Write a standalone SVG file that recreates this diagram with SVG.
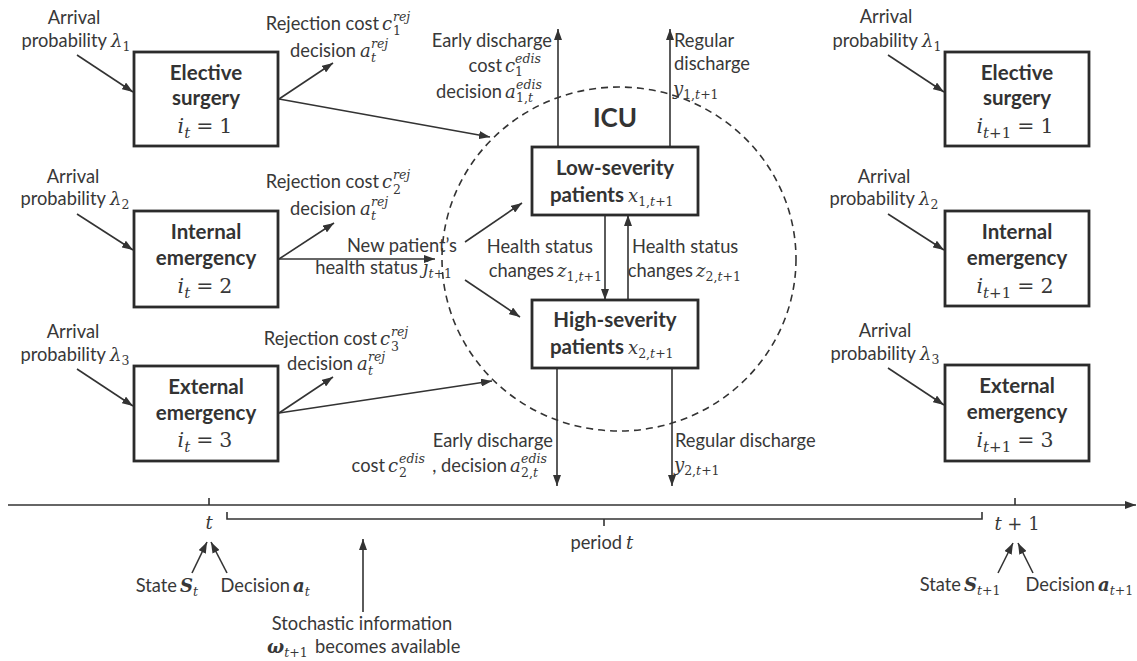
<svg xmlns="http://www.w3.org/2000/svg" width="1137" height="661" viewBox="0 0 1137 661">
<defs>
<marker id="ah" viewBox="0 0 11 8" refX="11" refY="4" markerWidth="11" markerHeight="8" markerUnits="userSpaceOnUse" orient="auto"><path d="M0,0 L11,4 L0,8 z" fill="#333"/></marker>
<style>
.box{fill:#fff;stroke:#2b2b2b;stroke-width:2.8}
.ln{stroke:#333;stroke-width:1.6;fill:none}
.ar{stroke:#333;stroke-width:1.6;fill:none;marker-end:url(#ah)}
.icu{fill:none;stroke:#333;stroke-width:1.6;stroke-dasharray:7 5}
.lbl{font-family:Lato,"Liberation Sans",sans-serif;font-size:18.3px;fill:#383838}
.bx{font-family:Lato,"Liberation Sans",sans-serif;font-weight:bold;font-size:20.5px;fill:#333;text-anchor:middle}
.m{font-family:"DejaVu Serif","Liberation Serif",serif;font-style:italic;font-size:18px;fill:#383838}
.bm{font-size:20.5px}
.s{font-size:12.5px}
.bs{font-size:15px}
.u{font-style:normal}
.b{font-weight:bold}
.n{font-weight:normal}
.mid{text-anchor:middle}
.end{text-anchor:end}
</style>
</defs>
<rect width="1137" height="661" fill="#fff"/>

<g id="connectors">
<path class="ar" d="M77,55 L133,92"/>
<path class="ar" d="M77,214 L133,250"/>
<path class="ar" d="M77,369 L133,406"/>
<path class="ar" d="M888,55 L944,92"/>
<path class="ar" d="M888,214 L944,250"/>
<path class="ar" d="M888,368 L944,405"/>
<path class="ar" d="M279,99 L333,63"/>
<path class="ar" d="M279,259 L334,223"/>
<path class="ar" d="M279,413 L333,377"/>
<path class="ar" d="M279,99 L490,137"/>
<path class="ar" d="M279,259 L435,259"/>
<path class="ar" d="M279,413 L492,381"/>
<path class="ar" d="M465,242 L522,203"/>
<path class="ar" d="M465,280 L520,317"/>
<path class="ar" d="M558,147 V29"/>
<path class="ar" d="M670,147 V29"/>
<path class="ar" d="M605,215 V300"/>
<path class="ar" d="M628,300 V215"/>
<path class="ar" d="M557,368 V486"/>
<path class="ar" d="M672,368 V486"/>
<path class="ar" d="M8,505 H1136"/>
<path class="ln" d="M209,498 V505 M1015,498 V505"/>
<path class="ln" d="M227,512 V519 H982 V512 M604,519 V526"/>
<path class="ar" d="M192,573 L207,542"/>
<path class="ar" d="M227,573 L211,542"/>
<path class="ar" d="M363,612 V539"/>
<path class="ar" d="M998,573 L1013,543"/>
<path class="ar" d="M1033,573 L1018,543"/>
</g>

<g id="icu">
<ellipse class="icu" cx="619" cy="259" rx="177" ry="172"/>
<text class="bx" x="615" y="127" style="font-size:26px">ICU</text>
</g>

<g id="elective_t">
<rect class="box" x="134" y="52" width="144" height="94"/>
<text class="bx" x="206" y="80">Elective</text>
<text class="bx" x="206" y="105">surgery</text>
<text class="m bm mid" x="205" y="133">i<tspan class="bs" dy="5">t</tspan><tspan class="u" dy="-5" dx="6">=</tspan><tspan class="u" dx="6">1</tspan></text>
</g>
<g id="internal_t">
<rect class="box" x="134" y="211" width="144" height="96"/>
<text class="bx" x="206" y="239">Internal</text>
<text class="bx" x="206" y="265">emergency</text>
<text class="m bm mid" x="205" y="293">i<tspan class="bs" dy="5">t</tspan><tspan class="u" dy="-5" dx="6">=</tspan><tspan class="u" dx="6">2</tspan></text>
</g>
<g id="external_t">
<rect class="box" x="134" y="366" width="144" height="95"/>
<text class="bx" x="206" y="394">External</text>
<text class="bx" x="206" y="420">emergency</text>
<text class="m bm mid" x="205" y="447">i<tspan class="bs" dy="5">t</tspan><tspan class="u" dy="-5" dx="6">=</tspan><tspan class="u" dx="6">3</tspan></text>
</g>

<g id="low_severity">
<rect class="box" x="532" y="147" width="166" height="68"/>
<text class="bx" x="615" y="175">Low-severity</text>
<text class="bx" x="624" y="202" style="text-anchor:end">patients</text>
<text class="m" x="628" y="202">x<tspan class="s u" dy="4">1,</tspan><tspan class="s">t</tspan><tspan class="s u">+1</tspan></text>
</g>
<g id="high_severity">
<rect class="box" x="532" y="300" width="166" height="68"/>
<text class="bx" x="615" y="327">High-severity</text>
<text class="bx" x="624" y="354" style="text-anchor:end">patients</text>
<text class="m" x="628" y="354">x<tspan class="s u" dy="4">2,</tspan><tspan class="s">t</tspan><tspan class="s u">+1</tspan></text>
</g>

<g id="elective_t1">
<rect class="box" x="945" y="52" width="144" height="94"/>
<text class="bx" x="1017" y="80">Elective</text>
<text class="bx" x="1017" y="105">surgery</text>
<text class="m bm mid" x="1015" y="133">i<tspan class="bs" dy="5">t</tspan><tspan class="bs u">+1</tspan><tspan class="u" dy="-5" dx="6">=</tspan><tspan class="u" dx="6">1</tspan></text>
</g>
<g id="internal_t1">
<rect class="box" x="945" y="211" width="144" height="95"/>
<text class="bx" x="1017" y="239">Internal</text>
<text class="bx" x="1017" y="265">emergency</text>
<text class="m bm mid" x="1015" y="293">i<tspan class="bs" dy="5">t</tspan><tspan class="bs u">+1</tspan><tspan class="u" dy="-5" dx="6">=</tspan><tspan class="u" dx="6">2</tspan></text>
</g>
<g id="external_t1">
<rect class="box" x="945" y="365" width="144" height="96"/>
<text class="bx" x="1017" y="393">External</text>
<text class="bx" x="1017" y="419">emergency</text>
<text class="m bm mid" x="1015" y="447">i<tspan class="bs" dy="5">t</tspan><tspan class="bs u">+1</tspan><tspan class="u" dy="-5" dx="6">=</tspan><tspan class="u" dx="6">3</tspan></text>
</g>

<g id="labels">
<!-- arrival left -->
<text class="lbl mid" x="74" y="24">Arrival</text>
<text class="lbl end" x="107" y="47">probability</text>
<text class="m" x="111" y="47">λ<tspan class="s u" dy="4">1</tspan></text>
<text class="lbl mid" x="73" y="183">Arrival</text>
<text class="lbl end" x="106" y="205">probability</text>
<text class="m" x="110" y="205">λ<tspan class="s u" dy="4">2</tspan></text>
<text class="lbl mid" x="73" y="338">Arrival</text>
<text class="lbl end" x="106" y="361">probability</text>
<text class="m" x="110" y="361">λ<tspan class="s u" dy="4">3</tspan></text>
<!-- arrival right -->
<text class="lbl mid" x="886" y="23">Arrival</text>
<text class="lbl end" x="918" y="47">probability</text>
<text class="m" x="922" y="47">λ<tspan class="s u" dy="4">1</tspan></text>
<text class="lbl mid" x="884" y="183">Arrival</text>
<text class="lbl end" x="915" y="205">probability</text>
<text class="m" x="919" y="205">λ<tspan class="s u" dy="4">2</tspan></text>
<text class="lbl mid" x="885" y="337">Arrival</text>
<text class="lbl end" x="916" y="360">probability</text>
<text class="m" x="920" y="360">λ<tspan class="s u" dy="4">3</tspan></text>
<!-- rejection -->
<text class="lbl end" x="379" y="30">Rejection cost</text>
<text class="m" x="382" y="30">c</text>
<text class="m s" x="393" y="21">rej</text>
<text class="m s u" x="393" y="35">1</text>
<text class="lbl end" x="356" y="57">decision</text>
<text class="m" x="360" y="57">a</text>
<text class="m s" x="371" y="48">rej</text>
<text class="m s" x="371" y="62">t</text>

<text class="lbl end" x="379" y="188">Rejection cost</text>
<text class="m" x="382" y="188">c</text>
<text class="m s" x="393" y="179">rej</text>
<text class="m s u" x="393" y="194">2</text>
<text class="lbl end" x="356" y="215">decision</text>
<text class="m" x="360" y="215">a</text>
<text class="m s" x="371" y="206">rej</text>
<text class="m s" x="371" y="220">t</text>

<text class="lbl end" x="377" y="345">Rejection cost</text>
<text class="m" x="380" y="345">c</text>
<text class="m s" x="391" y="336">rej</text>
<text class="m s u" x="391" y="351">3</text>
<text class="lbl end" x="353" y="370">decision</text>
<text class="m" x="357" y="370">a</text>
<text class="m s" x="368" y="361">rej</text>
<text class="m s" x="368" y="375">t</text>
<!-- new patient -->
<text class="lbl end" x="457" y="252">New patient’s</text>
<text class="lbl end" x="418" y="274">health status</text>
<text class="m" x="423" y="274">j<tspan class="s" dy="4">t</tspan><tspan class="s u">+1</tspan></text>
<!-- early discharge top -->
<text class="lbl end" x="552" y="47">Early discharge</text>
<text class="lbl end" x="502" y="72">cost</text>
<text class="m" x="505" y="72">c</text>
<text class="m s" x="515" y="63">edis</text>
<text class="m s u" x="515" y="76">1</text>
<text class="lbl end" x="502" y="98">decision</text>
<text class="m" x="505" y="98">a</text>
<text class="m s" x="516" y="89">edis</text>
<text class="m s" x="516" y="102"><tspan class="u">1,</tspan>t</text>
<!-- regular discharge top -->
<text class="lbl" x="674" y="47">Regular</text>
<text class="lbl" x="674" y="70">discharge</text>
<text class="m" x="673" y="95">y<tspan class="s u" dy="4">1,</tspan><tspan class="s">t</tspan><tspan class="s u">+1</tspan></text>
<!-- health status -->
<text class="lbl end" x="593" y="253">Health status</text>
<text class="lbl end" x="554" y="277">changes</text>
<text class="m" x="557" y="277">z<tspan class="s u" dy="4">1,</tspan><tspan class="s">t</tspan><tspan class="s u">+1</tspan></text>
<text class="lbl" x="632" y="253">Health status</text>
<text class="lbl end" x="693" y="277">changes</text>
<text class="m" x="696" y="277">z<tspan class="s u" dy="4">2,</tspan><tspan class="s">t</tspan><tspan class="s u">+1</tspan></text>
<!-- bottom discharges -->
<text class="lbl end" x="553" y="447">Early discharge</text>
<text class="lbl end" x="385" y="472">cost</text>
<text class="m" x="388" y="472">c</text>
<text class="m s" x="399" y="463">edis</text>
<text class="m s u" x="399" y="477">2</text>
<text class="lbl end" x="507" y="472">, decision</text>
<text class="m" x="510" y="472">a</text>
<text class="m s" x="521" y="463">edis</text>
<text class="m s" x="521" y="477"><tspan class="u">2,</tspan>t</text>
<text class="lbl" x="675" y="447">Regular discharge</text>
<text class="m" x="674" y="471">y<tspan class="s u" dy="4">2,</tspan><tspan class="s">t</tspan><tspan class="s u">+1</tspan></text>
<!-- timeline -->
<text class="m mid" x="209" y="529">t</text>
<text class="m mid" x="1017" y="530">t<tspan class="u"> + 1</tspan></text>
<text class="lbl end" x="622" y="549">period</text>
<text class="m" x="626" y="549">t</text>
<text class="lbl end" x="177" y="592">State</text>
<text class="m b" x="180" y="592">S<tspan class="s n" dy="4">t</tspan></text>
<text class="lbl end" x="290" y="592">Decision</text>
<text class="m b" x="293" y="592">a<tspan class="s n" dy="4">t</tspan></text>
<text class="lbl mid" x="362" y="630">Stochastic information</text>
<text class="m b" x="267" y="653">ω<tspan class="s n" dy="4">t</tspan><tspan class="s u n">+1</tspan></text>
<text class="lbl" x="315" y="653">becomes available</text>
<text class="lbl end" x="961" y="591">State</text>
<text class="m b" x="964" y="591">S<tspan class="s n" dy="4">t</tspan><tspan class="s u n">+1</tspan></text>
<text class="lbl end" x="1095" y="591">Decision</text>
<text class="m b" x="1098" y="591">a<tspan class="s n" dy="4">t</tspan><tspan class="s u n">+1</tspan></text>
</g>
</svg>
